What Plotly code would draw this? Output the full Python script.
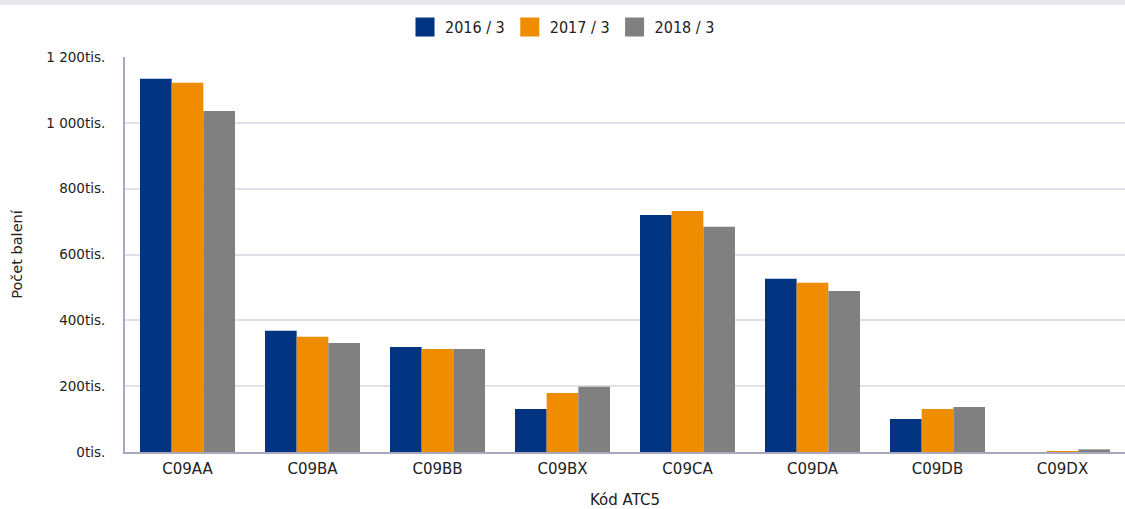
import plotly.graph_objects as go

categories = ["C09AA", "C09BA", "C09BB", "C09BX", "C09CA", "C09DA", "C09DB", "C09DX"]
series_names = ["2016 / 3", "2017 / 3", "2018 / 3"]
v2016 = [1134000, 368000, 319000, 131000, 720000, 526000, 100000, 0]
v2017 = [1122000, 350000, 313000, 179000, 732000, 514000, 131000, 500]
v2018 = [1036000, 331000, 313000, 198000, 684000, 489000, 137000, 8000]
colors = ["#003380", "#f08c00", "#808080"]
tick_vals = [0, 200000, 400000, 600000, 800000, 1000000, 1200000]
tick_text = ["0tis.", "200tis.", "400tis.", "600tis.", "800tis.", "1 000tis.", "1 200tis."]

fig = go.Figure()
for name, vals, c in zip(series_names, [v2016, v2017, v2018], colors):
    fig.add_trace(go.Bar(x=categories, y=vals, name=name, showlegend=False,
                         marker=dict(color=c, line=dict(width=0))))
# legend entries with larger square symbols
for name, c in zip(series_names, colors):
    fig.add_trace(go.Scatter(x=[None], y=[None], mode="markers", name=name,
                             marker=dict(symbol="square", size=16, color=c,
                                         line=dict(width=3, color=c))))

fig.update_layout(
    width=1125, height=509,
    barmode="group", bargap=0.24, bargroupgap=0,
    plot_bgcolor="white", paper_bgcolor="white",
    margin=dict(l=125, r=0, t=57, b=57),
    font=dict(family="DejaVu Sans", size=13.5, color="#222222"),
    legend=dict(orientation="h", x=0.5, xanchor="center", xref="container", y=0.947, yanchor="middle",
                yref="container", bgcolor="rgba(0,0,0,0)",
                font=dict(family="Liberation Sans Narrow, DejaVu Sans Condensed", size=16),
                traceorder="normal", itemwidth=30),
    showlegend=True,
    shapes=[dict(type="rect", xref="paper", yref="paper", x0=-0.2, x1=1.1,
                 y0=1.132, y1=1.16, fillcolor="#e6e6ea", line=dict(width=0), layer="below")],
)
fig.update_xaxes(title=dict(text="Kód ATC5", standoff=26, font=dict(size=15)), showline=True,
                 linecolor="#a8a8c0", linewidth=2, ticks="", tickfont=dict(size=15), automargin=False,
                 ticklabelstandoff=2)
fig.update_yaxes(title=dict(text="Počet balení", standoff=20, font=dict(size=14.5)), range=[0, 1200000],
                 tickvals=tick_vals, ticktext=tick_text, tickfont=dict(size=13.5), automargin=False,
                 showgrid=True, gridcolor="#e0e0ea", gridwidth=1.5, showline=True,
                 linecolor="#a8a8c0", linewidth=2, zeroline=False, ticks="", ticklabelstandoff=15)
fig.write_html("out.html", config={"displayModeBar": False},
               post_script="document.body.style.margin='0';")
